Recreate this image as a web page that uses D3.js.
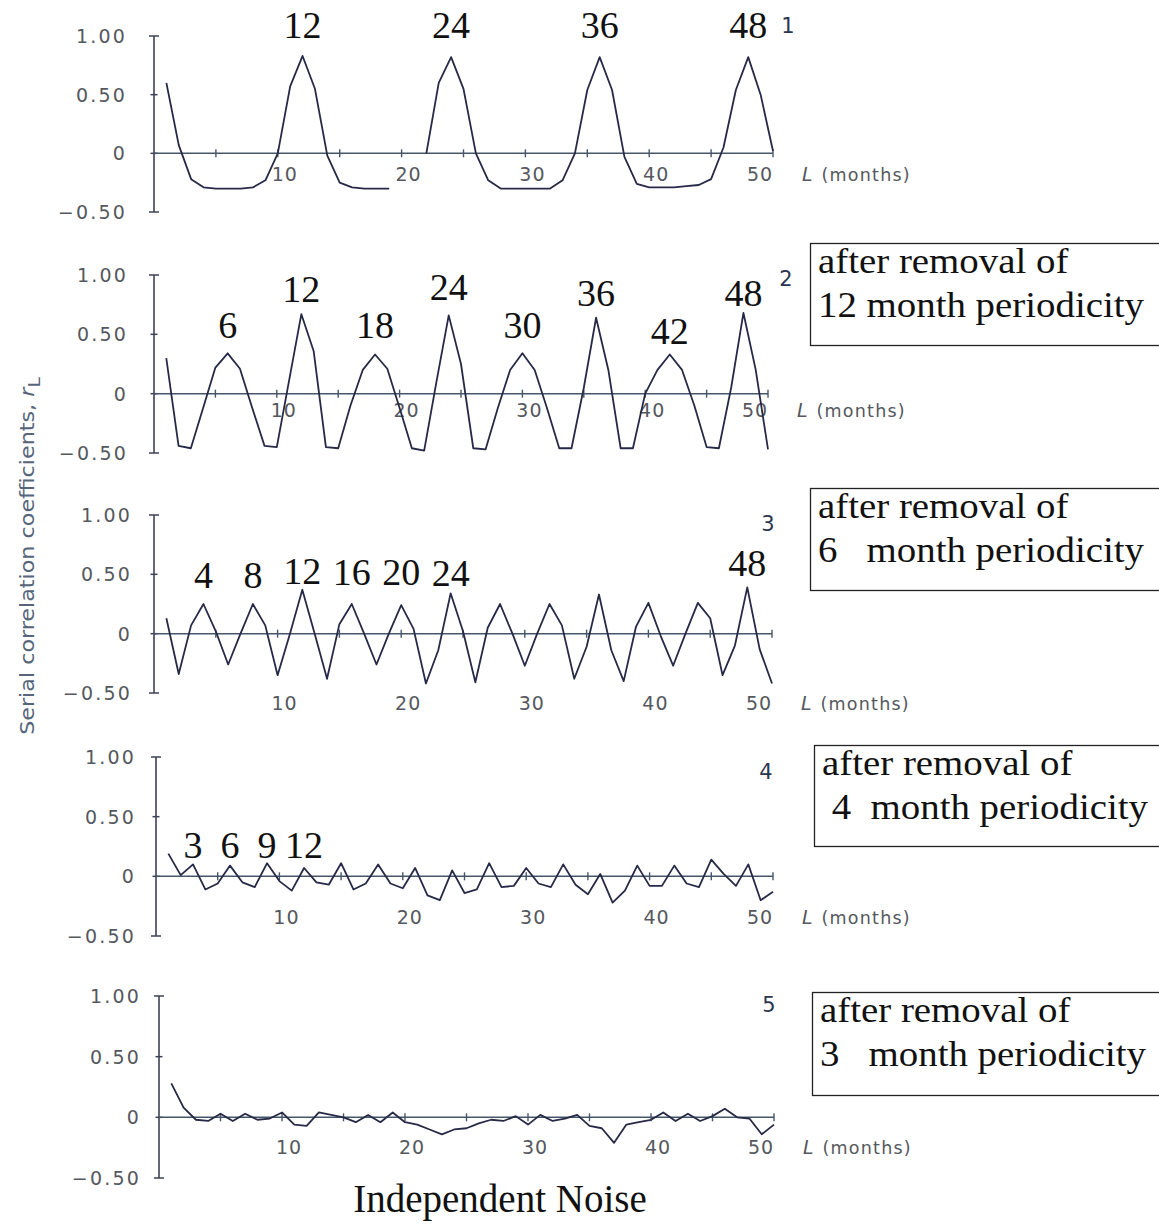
<!DOCTYPE html>
<html><head><meta charset="utf-8">
<script src="https://cdn.jsdelivr.net/npm/d3@7/dist/d3.min.js"></script>
<style>html,body{margin:0;padding:0;background:#fff;} svg{display:block;}</style>
</head><body><div id="chart"></div>
<script>
// ---------------- DATA ----------------
const lags = [1,2,3,4,5,6,7,8,9,10,11,12,13,14,15,16,17,18,19,20,21,22,23,24,25,
              26,27,28,29,30,31,32,33,34,35,36,37,38,39,40,41,42,43,44,45,46,47,48,49,50];
const yTickValues = [1, 0.5, 0, -0.5];
const yTickLabels = ["1.00", "0.50", "0", "\u22120.50"];
const xTickValues = [5,10,15,20,25,30,35,40,45,50];
const xLabelValues = [10,20,30,40,50];

// Panel 1: raw serial correlation (null = gap in the printed curve)
const series1 = [0.60,0.07,-0.22,-0.29,-0.30,-0.30,-0.30,-0.29,-0.23,0.00,
                 0.57,0.83,0.55,-0.02,-0.25,-0.29,-0.30,-0.30,-0.30,null,
                 null,0.00,0.60,0.82,0.55,0.00,-0.23,-0.30,-0.30,-0.30,
                 -0.30,-0.30,-0.23,0.00,0.54,0.82,0.54,-0.03,-0.26,-0.29,
                 -0.29,-0.29,-0.28,-0.27,-0.22,0.05,0.54,0.82,0.50,0.02];
// Panel 2: after removal of 12 month periodicity
const series2 = [0.30,-0.44,-0.46,-0.12,0.22,0.34,0.21,-0.12,-0.44,-0.45,
                 0.11,0.67,0.36,-0.45,-0.46,-0.10,0.20,0.33,0.21,-0.12,
                 -0.46,-0.48,0.10,0.66,0.25,-0.46,-0.47,-0.12,0.20,0.34,
                 0.20,-0.12,-0.46,-0.46,0.05,0.64,0.20,-0.46,-0.46,0.00,
                 0.20,0.33,0.20,-0.10,-0.45,-0.46,0.05,0.68,0.20,-0.47];
// Panel 3: after removal of 6 month periodicity
const series3 = [0.13,-0.34,0.07,0.25,0.02,-0.26,0.00,0.25,0.07,-0.35,
                 0.00,0.37,0.00,-0.38,0.08,0.25,0.00,-0.26,0.00,0.24,
                 0.04,-0.42,-0.14,0.34,0.02,-0.41,0.05,0.25,0.00,-0.27,
                 0.00,0.25,0.07,-0.38,-0.11,0.33,-0.14,-0.40,0.06,0.26,
                 -0.02,-0.27,0.00,0.26,0.13,-0.35,-0.10,0.39,-0.13,-0.42];
// Panel 4: after removal of 4 month periodicity
const series4 = [0.19,0.01,0.10,-0.11,-0.06,0.09,-0.05,-0.09,0.11,-0.04,
                 -0.12,0.07,-0.05,-0.07,0.11,-0.11,-0.06,0.10,-0.06,-0.10,
                 0.07,-0.16,-0.20,0.05,-0.14,-0.11,0.11,-0.09,-0.08,0.07,
                 -0.06,-0.09,0.10,-0.07,-0.15,0.02,-0.22,-0.12,0.09,-0.08,
                 -0.08,0.09,-0.06,-0.09,0.14,0.02,-0.08,0.10,-0.20,-0.13];
// Panel 5: after removal of 3 month periodicity (independent noise)
const series5 = [0.28,0.08,-0.02,-0.03,0.03,-0.03,0.03,-0.02,-0.01,0.04,
                 -0.06,-0.07,0.04,0.02,0.00,-0.04,0.02,-0.04,0.04,-0.04,
                 -0.06,-0.10,-0.14,-0.10,-0.09,-0.05,-0.02,-0.03,0.01,-0.06,
                 0.02,-0.03,-0.01,0.02,-0.07,-0.09,-0.21,-0.06,-0.04,-0.02,
                 0.04,-0.03,0.03,-0.03,0.01,0.07,0.00,-0.01,-0.14,-0.06];

const panelNumbers = ["1","2","3","4","5"];
const peakLabels1 = ["12","24","36","48"];
const peakLags1   = [12,24,36,48];
const peakLabels2 = ["6","12","18","24","30","36","42","48"];
const peakLags2   = [6,12,18,24,30,36,42,48];
const peakLabels3 = ["4","8","12","16","20","24","48"];
const peakLags3   = [4,8,12,16,20,24,48];
const peakLabels4 = ["3","6","9","12"];
const peakLags4   = [3,6,9,12];
const boxLine1 = "after removal of";
const boxLine2 = ["12 month periodicity", "6   month periodicity", " 4  month periodicity", "3   month periodicity"];
const yTitle = "Serial correlation coefficients, ";
const xUnit = "(months)";
const bottomTitle = "Independent Noise";

// ---------------- LAYOUT ----------------
const W = 1159, H = 1224;
const layout = [
  {x0:154, x50:773, yTop:36,  yBot:212,  labRight:127, xlabY:181,  numX:788, numY:33,
   peaks:{texts:peakLabels1, lags:peakLags1, base:[38,38,38,38]}},
  {x0:154, x50:768, yTop:275, yBot:453,  labRight:128, xlabY:417,  numX:786, numY:286,
   peaks:{texts:peakLabels2, lags:peakLags2, base:[338,302,338,300,338,306,344,306]}},
  {x0:154, x50:772, yTop:515, yBot:693,  labRight:132, xlabY:710,  numX:768, numY:531,
   peaks:{texts:peakLabels3, lags:peakLags3, base:[588,588,584,585,585,586,576]}},
  {x0:156, x50:773, yTop:757, yBot:936,  labRight:136, xlabY:924,  numX:766, numY:779,
   peaks:{texts:peakLabels4, lags:peakLags4, base:[858,858,858,858]}},
  {x0:159, x50:774, yTop:996, yBot:1178, labRight:141, xlabY:1154, numX:769, numY:1012,
   peaks:null}
];
const allSeries = [series1, series2, series3, series4, series5];
const boxes = [{x:810,y:243,h:102},{x:810,y:488,h:102},{x:814,y:745,h:101},{x:812,y:992,h:103}];

const lineColor = "#262a48", axisColor = "#3c4256", zeroColor = "#46566a",
      tickText = "#55585e", serif = "'Liberation Serif','Times New Roman',serif",
      sans = "'DejaVu Sans',Verdana,sans-serif";

const svg = d3.select("#chart").append("svg").attr("width", W).attr("height", H);

layout.forEach((P, i) => {
  const x = d3.scaleLinear().domain([0, 50]).range([P.x0, P.x50]);
  const y = d3.scaleLinear().domain([-0.5, 1]).range([P.yBot, P.yTop]);
  const g = svg.append("g");

  // vertical axis with end caps and ticks
  g.append("line").attr("x1", x(0)).attr("x2", x(0)).attr("y1", y(1)).attr("y2", y(-0.5))
    .attr("stroke", axisColor).attr("stroke-width", 1.6);
  yTickValues.forEach((v, k) => {
    const half = (v === 1 || v === -0.5) ? 5 : 3.5;
    g.append("line").attr("x1", x(0) - half).attr("x2", x(0) + half)
      .attr("y1", y(v)).attr("y2", y(v)).attr("stroke", axisColor).attr("stroke-width", 1.5);
    g.append("text").attr("x", P.labRight).attr("y", y(v) + 7)
      .attr("text-anchor", "end").attr("font-family", sans).attr("font-size", 19)
      .attr("letter-spacing", 2.2).attr("fill", tickText).text(yTickLabels[k]);
  });

  // zero line with ticks
  g.append("line").attr("x1", x(0)).attr("x2", x(50)).attr("y1", y(0)).attr("y2", y(0))
    .attr("stroke", zeroColor).attr("stroke-width", 1.5);
  xTickValues.forEach(v => {
    g.append("line").attr("x1", x(v)).attr("x2", x(v)).attr("y1", y(0) - 4).attr("y2", y(0) + 4)
      .attr("stroke", zeroColor).attr("stroke-width", 1.4);
  });
  xLabelValues.forEach((v, k) => {
    const last = k === xLabelValues.length - 1;
    g.append("text").attr("x", last ? x(v) - 13 : x(v) + 7).attr("y", P.xlabY)
      .attr("text-anchor", "middle").attr("font-family", sans).attr("font-size", 19)
      .attr("letter-spacing", 1).attr("fill", tickText).text(v);
  });
  const u = g.append("text").attr("x", x(50) + 29).attr("y", P.xlabY)
    .attr("font-family", sans).attr("fill", tickText);
  u.append("tspan").attr("font-style", "italic").attr("font-size", 19).text("L");
  u.append("tspan").attr("dx", 9).attr("font-size", 17.5).attr("letter-spacing", 1.2).text(xUnit);

  // the correlogram line
  const pts = lags.map((L, k) => ({L, v: allSeries[i][k]}));
  const line = d3.line().defined(d => d.v !== null).x(d => x(d.L)).y(d => y(d.v));
  g.append("path").datum(pts).attr("d", line).attr("fill", "none")
    .attr("stroke", lineColor).attr("stroke-width", 1.8).attr("stroke-linejoin", "round");

  // panel number
  g.append("text").attr("x", P.numX).attr("y", P.numY).attr("text-anchor", "middle")
    .attr("font-family", sans).attr("font-size", 21).attr("fill", "#2c3550").text(panelNumbers[i]);

  // peak annotations
  if (P.peaks) {
    P.peaks.texts.forEach((t, k) => {
      g.append("text").attr("x", x(P.peaks.lags[k])).attr("y", P.peaks.base[k])
        .attr("text-anchor", "middle").attr("font-family", serif).attr("font-size", 38)
        .attr("fill", "#111").text(t);
    });
  }
});

// boxes
boxes.forEach((b, k) => {
  svg.append("rect").attr("x", b.x + 0.5).attr("y", b.y + 0.5).attr("width", 360).attr("height", b.h)
    .attr("fill", "none").attr("stroke", "#222").attr("stroke-width", 1.3);
  const tg = svg.append("g").attr("transform", `translate(${b.x + 8},0) scale(1.08,1)`);
  tg.append("text").attr("x", 0).attr("y", b.y + 30).attr("font-family", serif)
    .attr("font-size", 36).attr("fill", "#111").text(boxLine1);
  tg.append("text").attr("x", 0).attr("y", b.y + 74).attr("font-family", serif)
    .attr("font-size", 36).attr("fill", "#111").style("white-space", "pre").text(boxLine2[k]);
});

// y title (rotated, stretched to the printed length)
const ytg = svg.append("g").attr("transform", "translate(34,556) rotate(-90)");
const yt = ytg.append("text").attr("text-anchor", "middle")
  .attr("font-family", "'DejaVu Sans Condensed','Liberation Sans Narrow',sans-serif")
  .attr("font-size", 19).attr("fill", "#56657a");
yt.append("tspan").text(yTitle);
yt.append("tspan").attr("font-style", "italic").text("r");
yt.append("tspan").attr("dy", 6).attr("font-size", 16).text("L");
const bw = yt.node().getBBox().width;
yt.attr("transform", `scale(${358 / bw},1)`);

// bottom title
svg.append("text").attr("x", 500).attr("y", 1212).attr("text-anchor", "middle")
  .attr("font-family", serif).attr("font-size", 39).attr("fill", "#111").text(bottomTitle);
</script></body></html>
